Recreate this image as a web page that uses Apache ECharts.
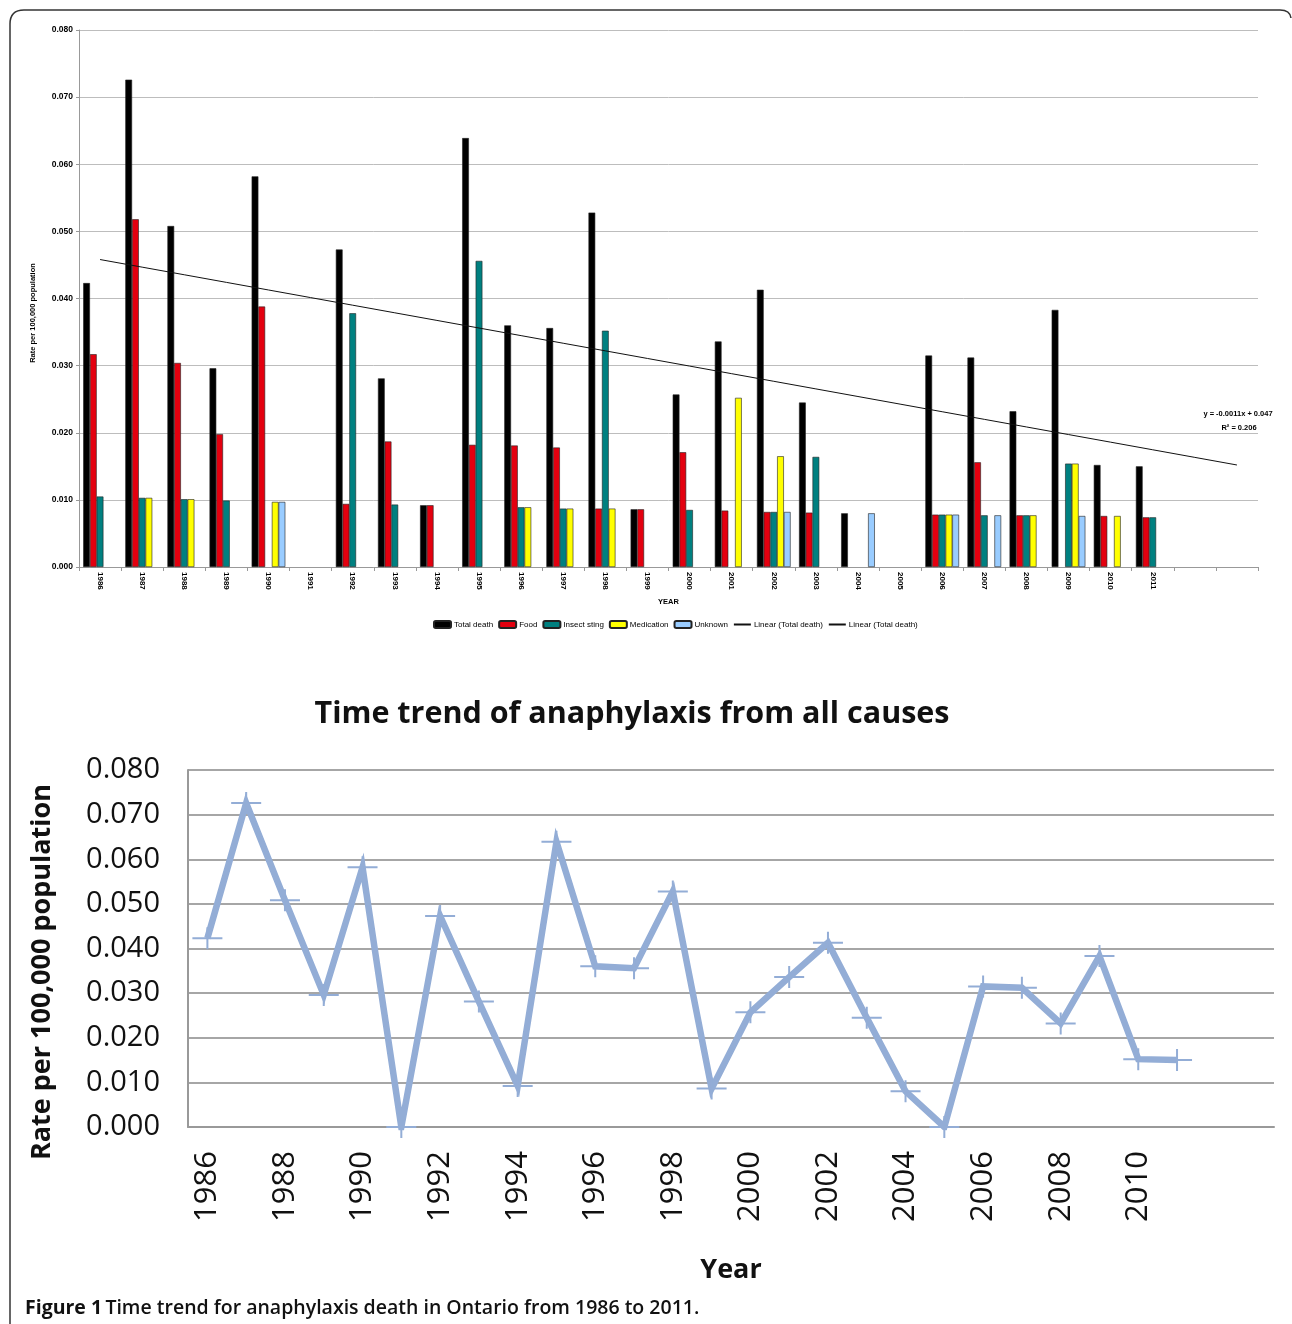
<!DOCTYPE html>
<html>
<head>
<meta charset="utf-8">
<script src="https://cdn.jsdelivr.net/npm/echarts@6/dist/echarts.min.js"></script>
<style>html,body{margin:0;padding:0;background:#fff;}#c{width:1292px;height:1324px;}</style>
</head>
<body>
<div id="c"></div>
<script>
var years = ['1986','1987','1988','1989','1990','1991','1992','1993','1994','1995','1996','1997','1998','1999','2000','2001','2002','2003','2004','2005','2006','2007','2008','2009','2010','2011'];
var categories = years.concat(['', '']);
var totalDeath = [0.0423,0.0726,0.0508,0.0296,0.0582,0,0.0473,0.0281,0.0092,0.0639,0.0360,0.0356,0.0528,0.0086,0.0257,0.0336,0.0413,0.0245,0.0080,0,0.0315,0.0312,0.0232,0.0383,0.0152,0.0150];
var food = [0.0317,0.0518,0.0304,0.0198,0.0388,null,0.0094,0.0187,0.0092,0.0182,0.0181,0.0178,0.0087,0.0086,0.0171,0.0084,0.0082,0.0081,null,null,0.0078,0.0156,0.0077,null,0.0076,0.0074];
var insectSting = [0.0105,0.0103,0.0101,0.0099,null,null,0.0378,0.0093,null,0.0456,0.0089,0.0087,0.0352,null,0.0085,null,0.0082,0.0164,null,null,0.0078,0.0077,0.0077,0.0154,null,0.0074];
var medication = [null,0.0103,0.0101,null,0.0097,null,null,null,null,null,0.0089,0.0087,0.0087,null,null,0.0252,0.0165,null,null,null,0.0078,null,0.0077,0.0154,0.0076,null];
var unknown = [null,null,null,null,0.0097,null,null,null,null,null,null,null,null,null,null,null,0.0082,null,0.0080,null,0.0078,0.0077,null,0.0076,null,null];
var yTicks = ['0.000','0.010','0.020','0.030','0.040','0.050','0.060','0.070','0.080'];

// Linear trend (least squares) of total death, x = 1..n, extended 2 periods forward
function linearTrend(vals, extra) {
  var n = vals.length, sx = 0, sy = 0, sxx = 0, sxy = 0;
  for (var i = 0; i < n; i++) { var x = i + 1; sx += x; sy += vals[i]; sxx += x * x; sxy += x * vals[i]; }
  var b = (n * sxy - sx * sy) / (n * sxx - sx * sx);
  var a = (sy - b * sx) / n;
  var out = [];
  for (var j = 0; j < n + extra; j++) out.push(a + b * (j + 1));
  return out;
}
var trend = linearTrend(totalDeath, 2);
var totalBars = totalDeath.map(function (v) { return v === 0 ? null : v; });

var chart = echarts.init(document.getElementById('c'));
var smallFont = 'Liberation Sans, Arial, sans-serif';
var bigFont = 'Open Sans, Noto Sans, sans-serif';
var borderC = '#222';

function barSeries(name, data, color) {
  return {
    name: name, type: 'bar', xAxisIndex: 0, yAxisIndex: 0, data: data,
    barGap: '0%', barCategoryGap: '20%',
    itemStyle: { color: color, borderColor: borderC, borderWidth: 0.6 },
    emphasis: { disabled: true }
  };
}

var frameStyle = { stroke: '#333', lineWidth: 1.5, fill: null };

var option = {
  animation: false,
  backgroundColor: '#fff',
  title: {
    text: 'Time trend of anaphylaxis from all causes',
    left: 627, top: 694, textAlign: 'center',
    textStyle: { fontFamily: bigFont, fontSize: 30.5, fontWeight: 'bold', color: '#111' }
  },
  legend: {
    left: 428, top: 615,
    itemWidth: 17, itemHeight: 7, itemGap: 5,
    textStyle: { fontFamily: smallFont, fontSize: 8, color: '#000', padding: [0, 0, 0, -2] },
    data: [
      'Total death', 'Food', 'Insect sting', 'Medication', 'Unknown',
      { name: 'Linear (Total death)', itemStyle: { opacity: 0 } },
      { name: 'Linear (Total death) ', itemStyle: { opacity: 0 } }
    ]
  },
  grid: [
    { left: 79, top: 30, width: 1179, height: 537 },
    { left: 188, top: 770, width: 1086, height: 357 }
  ],
  xAxis: [
    {
      gridIndex: 0, type: 'category', data: categories, boundaryGap: true,
      name: 'YEAR', nameLocation: 'middle', nameGap: 31,
      nameTextStyle: { fontFamily: smallFont, fontSize: 7.5, fontWeight: 'bold', color: '#000' },
      axisLine: { lineStyle: { color: '#999', width: 1 } },
      axisTick: { show: true, length: 4, lineStyle: { color: '#999' }, interval: 0 },
      axisLabel: { rotate: -90, interval: 0, fontFamily: smallFont, fontSize: 8, fontWeight: 'bold', color: '#000', margin: 5 },
      splitLine: { show: false }
    },
    {
      gridIndex: 1, type: 'category', data: categories, boundaryGap: true,
      name: 'Year', nameLocation: 'middle', nameGap: 130,
      nameTextStyle: { fontFamily: bigFont, fontSize: 27, fontWeight: 'bold', color: '#111' },
      axisLine: { lineStyle: { color: '#999', width: 2 } },
      axisTick: { show: false },
      axisLabel: { rotate: 90, interval: 1, fontFamily: bigFont, fontSize: 31, color: '#111', margin: 24 },
      splitLine: { show: false }
    }
  ],
  yAxis: [
    {
      gridIndex: 0, type: 'value', min: 0, max: 0.08, interval: 0.01,
      axisLine: { show: true, lineStyle: { color: '#999' } },
      axisTick: { show: true, length: 3, lineStyle: { color: '#999' } },
      axisLabel: { fontFamily: smallFont, fontSize: 8.5, fontWeight: 'bold', color: '#000', margin: 6,
        formatter: function (v) { return yTicks[Math.round(v / 0.01)]; } },
      splitLine: { show: true, lineStyle: { color: '#bdbdbd', width: 1 } }
    },
    {
      gridIndex: 1, type: 'value', min: 0, max: 0.08, interval: 0.01,
      axisLine: { show: true, lineStyle: { color: '#999', width: 2 } },
      axisTick: { show: false },
      axisLabel: { fontFamily: bigFont, fontSize: 29, color: '#111', margin: 28,
        formatter: function (v) { return yTicks[Math.round(v / 0.01)]; } },
      splitLine: { show: true, lineStyle: { color: '#a6a6a6', width: 2 } }
    }
  ],
  series: [
    barSeries('Total death', totalBars, '#000000'),
    barSeries('Food', food, '#e3000f'),
    barSeries('Insect sting', insectSting, '#008080'),
    barSeries('Medication', medication, '#ffff00'),
    barSeries('Unknown', unknown, '#99ccff'),
    {
      name: 'Linear (Total death)', type: 'line', xAxisIndex: 0, yAxisIndex: 0,
      data: trend, symbol: 'none', silent: true,
      lineStyle: { color: '#111', width: 1 }, itemStyle: { color: '#111' }
    },
    {
      name: 'Linear (Total death) ', type: 'line', xAxisIndex: 0, yAxisIndex: 0,
      data: [], symbol: 'none', silent: true,
      lineStyle: { color: '#111', width: 1 }, itemStyle: { color: '#111' }
    },
    {
      name: 'Total', type: 'line', xAxisIndex: 1, yAxisIndex: 1,
      data: totalDeath,
      symbol: 'path://M0,10L30,10L30,12L0,12Z M14,0L16,0L16,22L14,22Z',
      symbolSize: [30, 22],
      lineStyle: { color: '#93add6', width: 6.5, join: 'miter' },
      itemStyle: { color: '#93add6' },
      emphasis: { disabled: true }, silent: true
    }
  ],
  graphic: [
    { type: 'line', silent: true, shape: { x1: 10, y1: 1324, x2: 10, y2: 24 }, style: frameStyle },
    { type: 'bezierCurve', silent: true, shape: { x1: 10, y1: 24, cpx1: 10, cpy1: 10, x2: 24, y2: 10 }, style: frameStyle },
    { type: 'line', silent: true, shape: { x1: 24, y1: 10, x2: 1280, y2: 10 }, style: frameStyle },
    { type: 'bezierCurve', silent: true, shape: { x1: 1280, y1: 10, cpx1: 1290, cpy1: 10, x2: 1291, y2: 18 }, style: frameStyle },
    {
      type: 'text', x: 33, y: 313, rotation: Math.PI / 2, silent: true,
      style: { text: 'Rate per 100,000 population', fontFamily: smallFont, fontSize: 7.5, fontWeight: 'bold', fill: '#000', textAlign: 'center', textVerticalAlign: 'middle' }
    },
    {
      type: 'text', x: 42, y: 972, rotation: Math.PI / 2, silent: true,
      style: { text: 'Rate per 100,000 population', fontFamily: bigFont, fontSize: 27, fontWeight: 'bold', fill: '#111', textAlign: 'center', textVerticalAlign: 'middle' }
    },
    {
      type: 'text', x: 1238, y: 414, silent: true,
      style: { text: 'y = -0.0011x + 0.047', fontFamily: smallFont, fontSize: 7.5, fontWeight: 'bold', fill: '#000', textAlign: 'center', textVerticalAlign: 'middle' }
    },
    {
      type: 'text', x: 1239, y: 428, silent: true,
      style: { text: 'R² = 0.206', fontFamily: smallFont, fontSize: 7.5, fontWeight: 'bold', fill: '#000', textAlign: 'center', textVerticalAlign: 'middle' }
    },
    {
      type: 'text', x: 25, y: 1308, silent: true,
      style: {
        text: '{b|Figure 1} {m|Time trend for anaphylaxis death in Ontario from 1986 to 2011.}',
        textVerticalAlign: 'middle',
        rich: {
          b: { fontFamily: bigFont, fontSize: 19.5, fontWeight: 'bold', fill: '#111' },
          m: { fontFamily: bigFont, fontSize: 19.5, fontWeight: 600, fill: '#111' }
        }
      }
    }
  ]
};
chart.setOption(option);
</script>
</body>
</html>
